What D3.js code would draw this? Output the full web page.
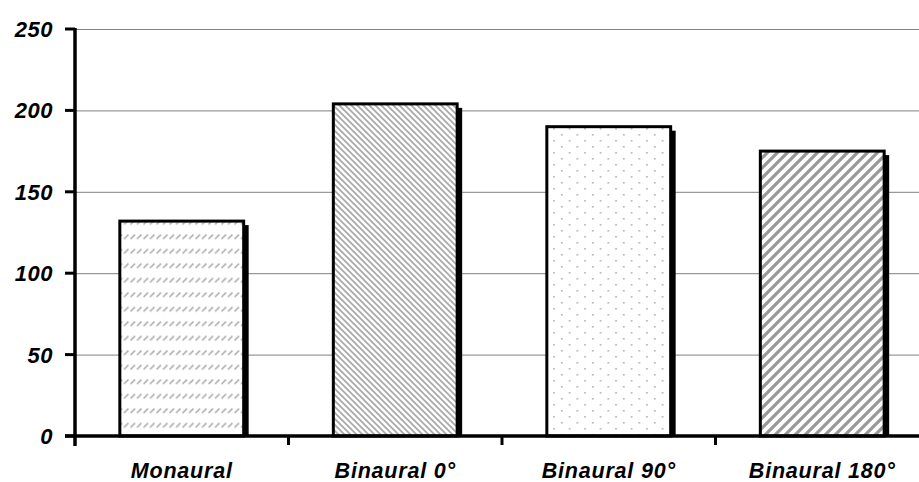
<!DOCTYPE html>
<html><head><meta charset="utf-8">
<script src="https://cdn.jsdelivr.net/npm/d3@7"></script>
<style>html,body{margin:0;padding:0;background:#fff;}svg{display:block;}</style>
</head><body>
<svg id="chart" width="919" height="482"></svg>
<script>
const categories = ["Monaural", "Binaural 0°", "Binaural 90°", "Binaural 180°"];
const values = [132, 204, 190, 175];
const yTicks = [0, 50, 100, 150, 200, 250];
const patterns = ["pDash", "pBack", "pDots", "pWide"];

const svg = d3.select("#chart");
const mLeft = 75, mRight = 929, mTop = 29, mBottom = 436;

const x = d3.scaleBand().domain(categories).range([mLeft, mRight]).paddingInner(0.42).paddingOuter(0.21);
const y = d3.scaleLinear().domain([0, 250]).range([mBottom, mTop]);

const defs = svg.append("defs");
let p = defs.append("pattern").attr("id", "pDash").attr("patternUnits", "userSpaceOnUse").attr("width", 6.5).attr("height", 14.5);
p.append("rect").attr("width", 6.5).attr("height", 14.5).attr("fill", "#fff");
p.append("line").attr("x1", 0.5).attr("y1", 7).attr("x2", 5).attr("y2", 2.5).attr("stroke", "#aaa").attr("stroke-width", 1.5);
p = defs.append("pattern").attr("id", "pBack").attr("patternUnits", "userSpaceOnUse").attr("width", 6).attr("height", 6);
p.append("rect").attr("width", 6).attr("height", 6).attr("fill", "#fff");
p.append("path").attr("d", "M-1,-1 L7,7 M-1,5 L1,7 M5,-1 L7,1").attr("stroke", "#aaa").attr("stroke-width", 1.8);
p = defs.append("pattern").attr("id", "pDots").attr("patternUnits", "userSpaceOnUse").attr("width", 15.5).attr("height", 12);
p.append("rect").attr("width", 15.5).attr("height", 12).attr("fill", "#fff");
p.append("rect").attr("x", 3).attr("y", 2).attr("width", 1.6).attr("height", 1.6).attr("fill", "#b0b0b0");
p.append("rect").attr("x", 10.75).attr("y", 8).attr("width", 1.6).attr("height", 1.6).attr("fill", "#b0b0b0");
p = defs.append("pattern").attr("id", "pWide").attr("patternUnits", "userSpaceOnUse").attr("width", 10).attr("height", 10);
p.append("rect").attr("width", 10).attr("height", 10).attr("fill", "#fff");
p.append("path").attr("d", "M-2,12 L12,-2 M-7,7 L7,-7 M3,17 L17,3").attr("stroke", "#999").attr("stroke-width", 3.2);

svg.append("g").selectAll("line").data(yTicks.filter(d => d > 0)).join("line")
  .attr("x1", mLeft).attr("x2", 919).attr("y1", d => y(d) + 0.5).attr("y2", d => y(d) + 0.5)
  .attr("stroke", "#808080").attr("stroke-width", 1);

const g = svg.append("g");
categories.forEach((c, i) => {
  const bx = x(c), bw = x.bandwidth(), by = y(values[i]), bh = y(0) - y(values[i]);
  g.append("rect").attr("x", bx + 5).attr("y", by + 4).attr("width", bw).attr("height", bh - 4).attr("fill", "#000");
  g.append("rect").attr("x", bx).attr("y", by).attr("width", bw).attr("height", bh)
    .attr("fill", `url(#${patterns[i]})`).attr("stroke", "#000").attr("stroke-width", 3);
});

const yAxis = svg.append("g");
yAxis.append("line").attr("x1", mLeft).attr("x2", mLeft).attr("y1", mTop - 1).attr("y2", mBottom + 10).attr("stroke", "#000").attr("stroke-width", 3.5);
yAxis.selectAll("line.t").data(yTicks).join("line").attr("class", "t")
  .attr("x1", 65).attr("x2", mLeft).attr("y1", d => y(d)).attr("y2", d => y(d)).attr("stroke", "#000").attr("stroke-width", 3);
yAxis.selectAll("text").data(yTicks).join("text")
  .attr("x", 53).attr("y", d => y(d)).attr("dy", "0.36em").attr("text-anchor", "end")
  .attr("font-family", "Liberation Sans, Arial, sans-serif").attr("font-weight", "bold").attr("font-style", "italic")
  .attr("font-size", 22).attr("letter-spacing", "0.5px").text(d => d);

const xAxis = svg.append("g");
xAxis.append("line").attr("x1", mLeft - 10).attr("x2", 919).attr("y1", mBottom).attr("y2", mBottom).attr("stroke", "#000").attr("stroke-width", 3.5);
const bounds = d3.range(categories.length).map(i => mLeft + i * x.step());
xAxis.selectAll("line.t").data(bounds.slice(1)).join("line").attr("class", "t")
  .attr("x1", d => d).attr("x2", d => d).attr("y1", mBottom).attr("y2", mBottom + 9).attr("stroke", "#000").attr("stroke-width", 3);
xAxis.selectAll("text").data(categories).join("text")
  .attr("x", d => x(d) + x.bandwidth() / 2).attr("y", 478).attr("text-anchor", "middle")
  .attr("font-family", "Liberation Sans, Arial, sans-serif").attr("font-weight", "bold").attr("font-style", "italic")
  .attr("font-size", 21.5).attr("letter-spacing", "0.8px").text(d => d);
</script>
</body></html>
